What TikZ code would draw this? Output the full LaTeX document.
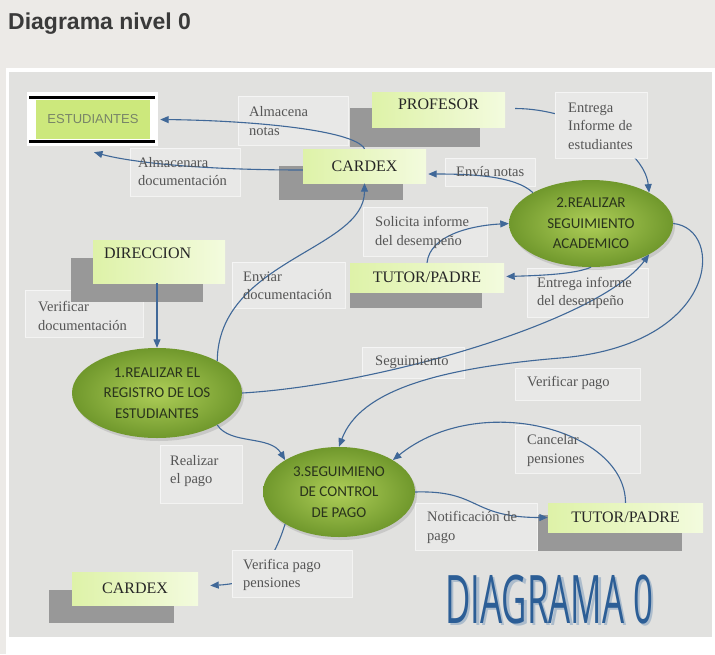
\documentclass[tikz,border=0pt]{standalone}
\usepackage{fontspec}
\usepackage{graphicx}
\setmainfont{Liberation Serif}
\newfontfamily\procfont{Carlito}
\newfontfamily\arialfont{Liberation Sans}
\newfontfamily\bigfont{Open Sans}
\usetikzlibrary{arrows.meta,shadows,calc,shapes.geometric}
\definecolor{pagebg}{RGB}{236,234,231}
\definecolor{texbg}{RGB}{225,225,223}
\definecolor{flow}{RGB}{64,104,152}
\definecolor{lbltext}{RGB}{85,85,85}
\definecolor{shad}{RGB}{152,152,152}
\definecolor{entA}{RGB}{222,242,168}
\definecolor{entB}{RGB}{243,251,222}
\definecolor{ellIn}{RGB}{174,206,88}
\definecolor{ellOut}{RGB}{112,152,44}
\definecolor{proctext}{RGB}{42,52,28}
\definecolor{storeG}{RGB}{204,232,124}
\definecolor{storetext}{RGB}{120,132,104}
\definecolor{titlec}{RGB}{58,58,58}
\definecolor{diagblue}{RGB}{44,94,150}
\definecolor{diagshad}{RGB}{172,188,204}
\definecolor{boxop}{RGB}{232,232,231}
\newcommand{\bigword}{\scalebox{0.52}[1]{DIAGRAMA 0}}
\begin{document}
\begin{tikzpicture}[x=1pt,y=-1pt,
  flowline/.style={draw=flow, line width=1.1pt, -{Triangle[length=8.5pt,width=7pt]}},
  entity/.style={rectangle, inner sep=0pt, left color=entA, right color=entB, font=\fontsize{16}{18}\selectfont, text=black!85},
  proc/.style={ellipse, inner sep=0pt, inner color=ellIn, outer color=ellOut, align=center, font=\procfont\fontsize{15}{20.5}\selectfont, text=proctext, drop shadow={shadow xshift=2pt, shadow yshift=-3pt, opacity=0.25}},
  lbl/.style={align=left, anchor=west, inner sep=0pt, font=\fontsize{14.5}{18.5}\selectfont, text=lbltext},
  lblbox/.style={fill=white, fill opacity=0.25, draw=white, draw opacity=0.6, line width=0.6pt},
  lblboxop/.style={fill=boxop, draw=white, draw opacity=0.6, line width=0.6pt},
  shadowbox/.style={fill=shad},
  bigtext/.style={anchor=base west, inner sep=0pt, font=\bigfont\fontsize{67}{70}\selectfont}
]
\useasboundingbox (0,0) rectangle (715,654);
\fill[pagebg] (0,0) rectangle (715,654);
\fill[white] (6,68) rectangle (715,654);
\fill[texbg] (9,72) rectangle (712,637);

\node[anchor=base west, inner sep=0pt, font=\arialfont\bfseries\fontsize{23}{26}\selectfont, text=titlec] (title) at (8,29) {Diagrama nivel 0};

% faint label boxes
\path[lblbox] (238,96) rectangle (348,145);
\path[lblbox] (130,148) rectangle (240,196);
\path[lblbox] (445,158) rectangle (535,186);
\path[lblbox] (363,207) rectangle (487,256);
\path[lblbox] (527,268) rectangle (648,317);
\path[lblbox] (232,262) rectangle (345,308);
\path[lblbox] (25,290) rectangle (143,337);
\path[lblbox] (362,347) rectangle (464,378);
\path[lblbox] (515,368) rectangle (640,400);
\path[lblbox] (515,425) rectangle (640,473);
\path[lblbox] (415,503) rectangle (537,550);
\path[lblbox] (160,445) rectangle (242,503);

% entity shadows
\fill[shadowbox] (350,108) rectangle (480,147);
\fill[shadowbox] (279,166) rectangle (403,200);
\fill[shadowbox] (71,258) rectangle (203,302);
\fill[shadowbox] (350,278) rectangle (482,308);
\fill[shadowbox] (538,515) rectangle (682,551);
\fill[shadowbox] (49,590) rectangle (174,623);

% data store
\fill[white] (27,92) rectangle (158,146);
\node[fill=storeG, minimum width=114pt, minimum height=39pt, inner sep=0pt, font=\arialfont\fontsize{13}{15}\selectfont, text=storetext] (est) at (93,119.5) {ESTUDIANTES};
\draw[black, line width=3pt] (29,97) -- (155,97);
\draw[black, line width=3pt] (29,141) -- (155,141);

% entities
\node[entity, minimum width=133pt, minimum height=35pt, text height=11pt, text depth=11pt] (prof) at (438.5,109.5) {PROFESOR};
\node[entity, minimum width=123pt, minimum height=34pt] (cardexT) at (364.5,166) {CARDEX};
\node[entity, minimum width=132pt, minimum height=43pt, text width=110pt, align=left, inner xsep=11pt, text height=11pt, text depth=17pt] (dir) at (159,261.5) {DIRECCION};
\node[entity, minimum width=154pt, minimum height=29pt] (tutorM) at (427,277.5) {TUTOR/PADRE};
\node[entity, minimum width=155pt, minimum height=29pt] (tutorB) at (625.5,517.5) {TUTOR/PADRE};
\node[entity, minimum width=126pt, minimum height=33pt] (cardexB) at (135,588.5) {CARDEX};

% processes
\node[proc, minimum width=170pt, minimum height=90pt] (p1) at (157,393) {1.REALIZAR EL\\REGISTRO DE LOS\\ESTUDIANTES};
\node[proc, minimum width=164pt, minimum height=87pt] (p2) at (591,223.5) {2.REALIZAR\\SEGUIMIENTO\\ACADEMICO};
\node[proc, minimum width=152pt, minimum height=90pt] (p3) at (339,492) {3.SEGUIMIENO\\DE CONTROL\\DE PAGO};

\coordinate (m10) at ($(p2.east)+(-113,134.5)$);

% connectors
\draw[flowline] (cardexT.north) .. controls +(-10,-19) and +(90,1) .. ($(est.east)+(10,0)$);
\draw[flowline] ($(cardexT.west)+(0,4)$) .. controls +(-103,0) and +(36,10) .. ($(est.south)+(1,13)$);
\draw[flowline] ($(prof.east)+(10,-1)$) .. controls +(60,0) and +(-5,-45) .. (p2.north east);
\draw[flowline] (p2.north west) .. controls +(-18,-17) and +(42,0) .. ($(cardexT.east)+(2,8)$);
\draw[flowline] (tutorM.north) .. controls +(3,-28) and +(-37,2) .. (p2.west);
\draw[flowline] (p2.south) .. controls +(-16,7) and +(34,-1) .. ($(tutorM.east)+(2,-1)$);
\draw[flowline] (p1.north east) .. controls +(1,-101) and +(0,67) .. (cardexT.south);
\draw[flowline] (dir.south -| p1.north) -- (p1.north);
\draw[flowline] (p1.east) .. controls +(138,-8) and +(-49,66) .. (p2.south east);
\draw[flowline] (p2.east) .. controls +(52,5) and +(160,-13) .. (m10) .. controls +(-120,10) and +(21,-57) .. (p3.north);
\draw[flowline] (p1.south east) .. controls +(13,20) and +(-15,-25) .. (p3.north west);
\draw[flowline] (tutorB.north) .. controls +(0,-73) and +(87,-70) .. (p3.north east);
\draw[flowline] (p3.east) .. controls +(65,-2) and +(-78,0) .. (tutorB.west);
\draw[flowline] (p3.south west) .. controls +(-15,48) and +(40,-2) .. ($(cardexB.east)+(12,-3)$);

% opaque label boxes
\path[lblboxop] (555,92) rectangle (647,158);
\path[lblboxop] (232,550) rectangle (352,597);

% labels
\node[lbl] (lAlmN) at (249,121) {Almacena\\notas};
\node[lbl] (lAlmD) at (138,171.5) {Almacenara\\documentación};
\node[lbl] (lEntI) at (568,126) {Entrega\\Informe de\\estudiantes};
\node[lbl] (lEnvN) at (456,172) {Envía notas};
\node[lbl] (lSol) at (375,232.5) {Solicita informe\\del desempeño};
\node[lbl] (lEntD) at (537,293) {Entrega informe\\del desempeño};
\node[lbl] (lEnvD) at (243,286) {Enviar\\documentación};
\node[lbl] (lVerD) at (38,316) {Verificar\\documentación};
\node[lbl] (lSeg) at (375,362) {Seguimiento};
\node[lbl] (lVerP) at (527,383) {Verificar pago};
\node[lbl] (lCan) at (527,450.5) {Cancelar\\pensiones};
\node[lbl] (lNot) at (427,527.5) {Notificación de\\pago};
\node[lbl] (lRea) at (170,471) {Realizar\\el pago};
\node[lbl] (lVerPP) at (243,575) {Verifica pago\\pensiones};

% big title with its soft shadow (one node)
\node[bigtext, text=diagblue] (diagT) at (445,623) {\rlap{\hspace{2.5pt}\raisebox{-2.5pt}{\color{diagshad}\bigword}}\bigword};
\end{tikzpicture}
\end{document}
